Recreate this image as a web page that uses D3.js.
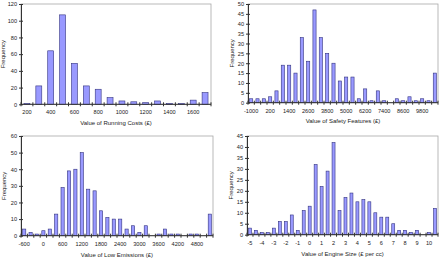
<!DOCTYPE html>
<html>
<head>
<meta charset="utf-8">
<script src="https://cdn.jsdelivr.net/npm/d3@7"></script>
<style>
  body { margin: 0; background: #fff; }
  text { font-family: "Liberation Sans", Arial, sans-serif; fill: #222; }
</style>
</head>
<body>
<div id="chart-area"></div>
<script>
// Bin labels and frequencies
const runningBins = [200, 300, 400, 500, 600, 700, 800, 900, 1000, 1100, 1200, 1300, 1400, 1500, 1600, 1700]
const runningFreq = [1, 22, 64, 107, 49, 22, 18, 8, 4, 3, 2, 4, 1, 1, 5, 14]

const safetyBins = [-1000, -600, -200, 200, 600, 1000, 1400, 1800, 2200, 2600, 3000, 3400, 3800, 4200, 4600,
  5000, 5400, 5800, 6200, 6600, 7000, 7400, 7800, 8200, 8600, 9000, 9400, 9800, 10200, 10600]
const safetyFreq = [2, 2, 2, 3, 6, 19, 19, 15, 33, 21, 47, 33, 25, 20, 11,
  13, 13, 2, 7, 1, 6, 1, 0, 2, 1, 3, 1, 2, 1, 15]

const emissionBins = [-600, -400, -200, 0, 200, 400, 600, 800, 1000, 1200, 1400, 1600, 1800, 2000, 2200,
  2400, 2600, 2800, 3000, 3200, 3400, 3600, 3800, 4000, 4200, 4400, 4600, 4800, 5000, 5200]
const emissionFreq = [4, 2, 1, 3, 4, 13, 29, 39, 40, 50, 28, 27, 15, 11, 10,
  10, 4, 6, 2, 6, 0, 1, 4, 1, 1, 0, 1, 1, 0, 13]

const engineBins = [-5, -4.5, -4, -3.5, -3, -2.5, -2, -1.5, -1, -0.5, 0, 0.5, 1, 1.5, 2, 2.5,
  3, 3.5, 4, 4.5, 5, 5.5, 6, 6.5, 7, 7.5, 8, 8.5, 9, 9.5, 10, 10.5]
const engineFreq = [3, 2, 1, 1, 3, 6, 6, 9, 2, 11, 13, 32, 22, 29, 42, 11,
  17, 19, 15, 16, 15, 10, 8, 8, 5, 2, 2, 1, 2, 0, 1, 12]

const svg = d3.select("#chart-area").append("svg")
  .attr("width", 441)
  .attr("height", 258)

function histogram(opts) {
  const { bins, freq, left, top, right, bottom, yMax, yStep, labelEvery, title, yLabelX, titleY } = opts
  const g = svg.append("g")

  const x = d3.scaleBand()
    .domain(d3.range(bins.length))
    .range([left, right])
    .paddingInner(0.5)
    .paddingOuter(0.25)
  const y = d3.scaleLinear()
    .domain([0, yMax])
    .range([bottom, top])

  // plot frame (grey top / right)
  g.append("rect")
    .attr("x", left).attr("y", top)
    .attr("width", right - left).attr("height", bottom - top)
    .attr("fill", "none")
    .attr("stroke", "#a8a8a8")
    .attr("stroke-width", 0.8)

  // bars
  g.selectAll(".bar")
    .data(freq)
    .enter().append("rect")
    .attr("x", (d, i) => x(i))
    .attr("width", x.bandwidth())
    .attr("y", d => y(d))
    .attr("height", d => bottom - y(d))
    .attr("fill", "#9999ff")
    .attr("stroke", "#333380")
    .attr("stroke-width", 0.6)

  // Y axis
  const yAxisCall = d3.axisLeft(y)
    .tickValues(d3.range(0, yMax + 0.001, yStep))
    .tickSizeInner(2)
    .tickSizeOuter(0)
  const yAxis = g.append("g")
    .attr("transform", `translate(${left}, 0)`)
    .call(yAxisCall)
  yAxis.selectAll(".tick line").attr("x2", 2).attr("x1", -2).attr("stroke", "#333")
  yAxis.select(".domain").attr("stroke", "#333")
  yAxis.selectAll("text").attr("x", -4).attr("font-size", "5.6px")

  // X axis: ticks on bin boundaries, labels on every few bins
  const step = x.step()
  const x0 = left
  const bounds = d3.range(bins.length + 1).map(i => x0 + i * (right - left) / bins.length)
  const xa = g.append("g")
  xa.append("line")
    .attr("x1", left).attr("x2", right)
    .attr("y1", bottom).attr("y2", bottom)
    .attr("stroke", "#333")
  xa.selectAll(".xt")
    .data(bounds)
    .enter().append("line")
    .attr("x1", d => d).attr("x2", d => d)
    .attr("y1", bottom - 2).attr("y2", bottom + 2)
    .attr("stroke", "#333")
  xa.selectAll(".xl")
    .data(bins.map((b, i) => ({ b, i })).filter(d => d.i % labelEvery === 0))
    .enter().append("text")
    .attr("x", d => x(d.i) + x.bandwidth() / 2)
    .attr("y", bottom + 10)
    .attr("text-anchor", "middle")
    .attr("font-size", "5.6px")
    .text(d => d.b)

  // titles
  g.append("text")
    .attr("x", (left + right) / 2)
    .attr("y", titleY)
    .attr("text-anchor", "middle")
    .attr("font-size", "6px")
    .text(title)
  g.append("text")
    .attr("transform", `translate(${yLabelX}, ${(top + bottom) / 2}) rotate(-90)`)
    .attr("text-anchor", "middle")
    .attr("dy", "0.35em")
    .attr("font-size", "6px")
    .text("Frequency")
}

histogram({ bins: runningBins, freq: runningFreq, left: 21, top: 4, right: 211, bottom: 104.3,
  yMax: 120, yStep: 20, labelEvery: 2, title: "Value of Running Costs (£)", yLabelX: 2.5, titleY: 125 })
histogram({ bins: safetyBins, freq: safetyFreq, left: 248, top: 4, right: 438, bottom: 102.7,
  yMax: 50, yStep: 5, labelEvery: 3, title: "Value of Safety Features (£)", yLabelX: 231.5, titleY: 123 })
histogram({ bins: emissionBins, freq: emissionFreq, left: 21, top: 136, right: 213, bottom: 235.7,
  yMax: 60, yStep: 10, labelEvery: 3, title: "Value of Low Emissions (£)", yLabelX: 4, titleY: 257 })
histogram({ bins: engineBins, freq: engineFreq, left: 247, top: 136, right: 438, bottom: 234.7,
  yMax: 45, yStep: 5, labelEvery: 2, title: "Value of Engine Size (£ per cc)", yLabelX: 231, titleY: 256 })
</script>
</body>
</html>
